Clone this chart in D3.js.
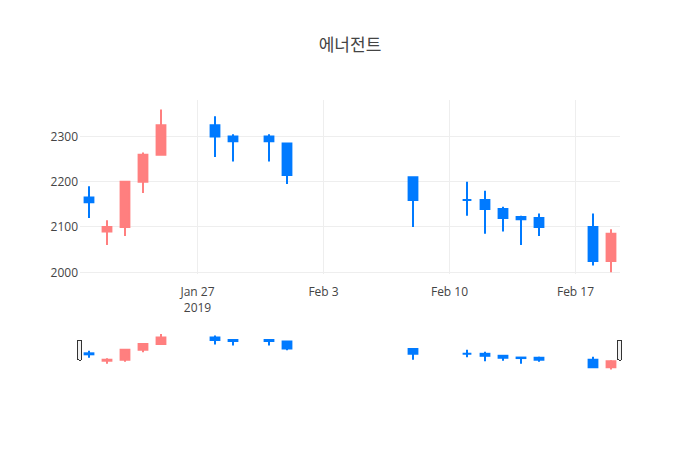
<!DOCTYPE html>
<html>
<head>
<meta charset="utf-8">
<script src="https://cdn.jsdelivr.net/npm/d3@7"></script>
<style>
  body { margin: 0; background: #fff; }
  svg { display: block; font-family: "Open Sans", "Noto Sans CJK KR", sans-serif; }
</style>
</head>
<body>
<div id="chart"></div>
<script>
// dades (llegides del gràfic)
const dates = ["2019-01-21", "2019-01-22", "2019-01-23", "2019-01-24", "2019-01-25",
               "2019-01-28", "2019-01-29", "2019-01-31", "2019-02-01", "2019-02-08",
               "2019-02-11", "2019-02-12", "2019-02-13", "2019-02-14", "2019-02-15",
               "2019-02-18", "2019-02-19"];
const open  = [2165, 2090, 2100, 2200, 2260, 2325, 2300, 2300, 2285, 2210, 2160, 2160, 2140, 2122, 2120, 2100, 2025];
const high  = [2190, 2115, 2200, 2265, 2360, 2345, 2305, 2305, 2285, 2210, 2200, 2180, 2145, 2125, 2130, 2130, 2095];
const low   = [2120, 2060, 2080, 2175, 2260, 2255, 2245, 2245, 2195, 2100, 2125, 2085, 2090, 2060, 2080, 2015, 2000];
const close = [2155, 2100, 2200, 2260, 2325, 2300, 2290, 2290, 2215, 2160, 2160, 2140, 2120, 2117, 2100, 2025, 2085];
const yTicks = [2000, 2100, 2200, 2300];
const title = "에너전트";

const parse = d3.timeParse("%Y-%m-%d");
const data = dates.map((d, i) => ({
    date: parse(d), o: open[i], h: high[i], l: low[i], c: close[i],
    // pujada en vermell, baixada en blau
    up: close[i] > open[i]
}));

const incColor = "#ff7f7f";
const decColor = "#007aff";

const W = 700, H = 450;
const plot = { left: 80, right: 620, top: 100, bottom: 274 };
const slider = { top: 332, bottom: 370 };

const svg = d3.select("#chart").append("svg")
    .attr("width", W).attr("height", H);

const day = 864e5;
const x = d3.scaleTime()
    .domain([new Date(+data[0].date - day / 2), new Date(+data[data.length - 1].date + day / 2)])
    .range([plot.left, plot.right]);

const yDomain = [1996, 2381];
const y = d3.scaleLinear().domain(yDomain).range([plot.bottom, plot.top]);
const ys = d3.scaleLinear().domain(yDomain).range([slider.bottom, slider.top]);

// graella
const weekTicks = d3.timeWeek.range(x.domain()[0], x.domain()[1]);

svg.append("g")
    .selectAll("line")
    .data(yTicks)
    .join("line")
    .attr("x1", plot.left).attr("x2", plot.right)
    .attr("y1", d => y(d)).attr("y2", d => y(d))
    .attr("stroke", "#eee").attr("stroke-width", 1)
    .attr("shape-rendering", "crispEdges");

svg.append("g")
    .selectAll("line")
    .data(weekTicks)
    .join("line")
    .attr("x1", d => x(d)).attr("x2", d => x(d))
    .attr("y1", plot.top).attr("y2", plot.bottom)
    .attr("stroke", "#eee").attr("stroke-width", 1)
    .attr("shape-rendering", "crispEdges");

// eix Y
const yAxis = svg.append("g")
    .attr("transform", `translate(${plot.left - 2},0)`)
    .call(d3.axisLeft(y).tickValues(yTicks).tickSize(0).tickPadding(0).tickFormat(d3.format("d")));
yAxis.select(".domain").remove();
yAxis.selectAll("text")
    .style("font-size", "12px")
    .style("font-family", "'Open Sans', sans-serif")
    .attr("fill", "#444");

// eix X
const fmt = d3.timeFormat("%b %-d");
const xAxis = svg.append("g")
    .attr("transform", `translate(0,${plot.bottom})`)
    .call(d3.axisBottom(x).tickValues(weekTicks).tickSize(0).tickPadding(0).tickFormat(""));
xAxis.select(".domain").remove();
xAxis.selectAll(".tick text").each(function(d, i) {
    const t = d3.select(this)
        .attr("y", 22)
        .attr("dy", null)
        .attr("fill", "#444")
        .style("font-size", "12px")
        .style("font-family", "'Open Sans', sans-serif");
    t.append("tspan").attr("x", 0).text(fmt(d));
    if (i === 0) t.append("tspan").attr("x", 0).attr("dy", 15.6).text(d3.timeFormat("%Y")(d));
});

// espelmes
function candles(g, yScale) {
    const bw = (x(new Date(+data[0].date + day * 0.3)) - x(data[0].date)) * 2;
    const c = g.selectAll("g.candle")
        .data(data)
        .join("g")
        .attr("class", "candle");
    c.append("line")
        .attr("x1", d => x(d.date)).attr("x2", d => x(d.date))
        .attr("y1", d => yScale(d.h)).attr("y2", d => yScale(d.l))
        .attr("stroke", d => d.up ? incColor : decColor)
        .attr("stroke-width", 2);
    // cos com a path perquè el doji (obertura = tancament) també es vegi
    c.append("path")
        .attr("d", d => {
            const x0 = x(d.date) - bw / 2 + 1, x1 = x(d.date) + bw / 2 - 1;
            const y0 = yScale(Math.max(d.o, d.c)), y1 = yScale(Math.min(d.o, d.c));
            return `M${x0},${y0}H${x1}V${y1}H${x0}Z`;
        })
        .attr("fill", d => d.up ? incColor : decColor)
        .attr("stroke", d => d.up ? incColor : decColor)
        .attr("stroke-width", 2);
}

candles(svg.append("g"), y);

// range slider
const rs = svg.append("g");
rs.append("rect")
    .attr("x", plot.left).attr("y", slider.top - 2)
    .attr("width", plot.right - plot.left).attr("height", slider.bottom - slider.top + 4)
    .attr("fill", "#fff");
candles(rs.append("g"), ys);

const handleY = 340, handleH = 20;
rs.selectAll("rect.handle")
    .data([plot.left, plot.right])
    .join("rect")
    .attr("class", "handle")
    .attr("x", d => d - 2.5)
    .attr("y", handleY)
    .attr("width", 4)
    .attr("height", handleH)
    .attr("rx", 1)
    .attr("fill", "#f2f2f2")
    .attr("stroke", "#333")
    .attr("stroke-width", 1)
    .attr("shape-rendering", "crispEdges");

// títol
svg.append("text")
    .attr("x", W / 2)
    .attr("y", 51)
    .attr("text-anchor", "middle")
    .style("font-size", "17px")
    .style("font-family", "'Open Sans', 'Noto Sans CJK KR', sans-serif")
    .attr("fill", "#444")
    .text(title);
</script>
</body>
</html>
